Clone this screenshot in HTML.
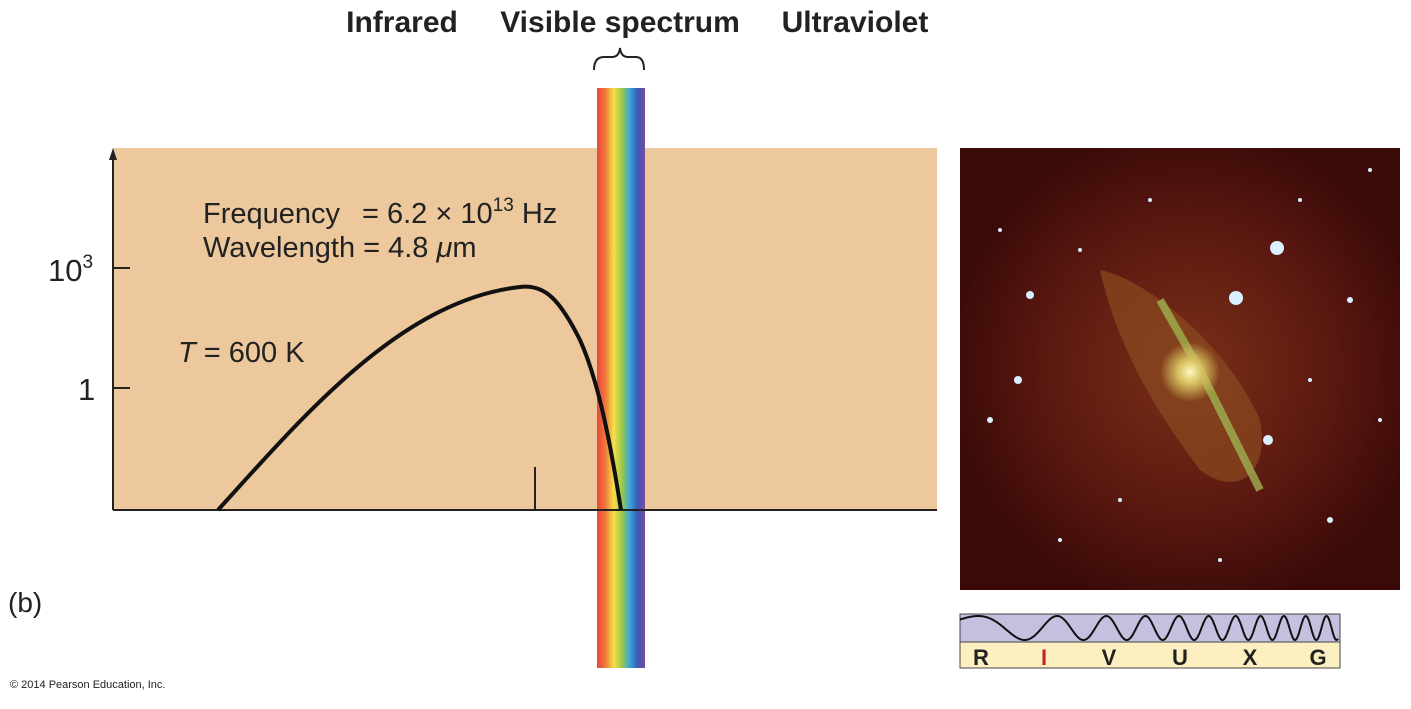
<!DOCTYPE html>
<html><head><meta charset="utf-8"><style>
body{margin:0;width:1411px;height:704px;background:#fff;overflow:hidden;font-family:"Liberation Sans",sans-serif}
</style></head><body>
<svg width="1411" height="704" xmlns="http://www.w3.org/2000/svg" font-family="Liberation Sans, sans-serif">
<defs>
<linearGradient id="rb" x1="0" x2="1" y1="0" y2="0">
<stop offset="0" stop-color="#e8463c"/><stop offset="0.18" stop-color="#f07a3a"/>
<stop offset="0.35" stop-color="#f6e04a"/><stop offset="0.52" stop-color="#9cc84a"/>
<stop offset="0.68" stop-color="#3aa8d8"/><stop offset="0.84" stop-color="#3a5cb8"/>
<stop offset="1" stop-color="#7a4aa0"/></linearGradient>
<radialGradient id="neb" cx="0.52" cy="0.5" r="0.55">
<stop offset="0" stop-color="#7a3018"/><stop offset="0.6" stop-color="#5a1810"/><stop offset="1" stop-color="#3a0a08"/></radialGradient>
<radialGradient id="core" cx="0.5" cy="0.5" r="0.5">
<stop offset="0" stop-color="#fff8c0"/><stop offset="0.4" stop-color="#d8c060"/><stop offset="1" stop-color="#d8c060" stop-opacity="0"/></radialGradient>
</defs>
<text x="402" y="32" font-size="30" font-weight="bold" text-anchor="middle" fill="#222">Infrared</text>
<text x="620" y="32" font-size="30" font-weight="bold" text-anchor="middle" fill="#222">Visible spectrum</text>
<text x="855" y="32" font-size="30" font-weight="bold" text-anchor="middle" fill="#222">Ultraviolet</text>
<path d="M594 70 Q594 57 604 57 L612 57 Q619 57 620 48 Q621 57 628 57 L636 57 Q644 57 644 70" fill="none" stroke="#222" stroke-width="2"/>
<rect x="113" y="148" width="824" height="362" fill="#ecc89c"/>
<rect x="597" y="88" width="48" height="580" fill="url(#rb)"/>
<line x1="113" y1="510" x2="937" y2="510" stroke="#222" stroke-width="2"/>
<line x1="113" y1="510" x2="113" y2="152" stroke="#222" stroke-width="2"/>
<path d="M109 160 L113 148 L117 160Z" fill="#222"/>
<line x1="113" y1="268" x2="130" y2="268" stroke="#222" stroke-width="2"/>
<line x1="113" y1="388" x2="130" y2="388" stroke="#222" stroke-width="2"/>
<line x1="535" y1="467" x2="535" y2="510" stroke="#222" stroke-width="2"/>
<text x="48" y="281" font-size="31" fill="#222">10<tspan font-size="19" dy="-13">3</tspan></text>
<text x="78" y="400" font-size="31" fill="#222">1</text>
<text x="203" y="223" font-size="29" fill="#222">Frequency</text>
<text x="362" y="223" font-size="29" fill="#222">= 6.2 × 10<tspan font-size="19" dy="-12">13</tspan><tspan dy="12"> Hz</tspan></text>
<text x="203" y="257" font-size="29" fill="#222">Wavelength = 4.8 <tspan font-style="italic">μ</tspan>m</text>
<text x="178" y="362" font-size="29" fill="#222"><tspan font-style="italic">T</tspan> = 600 K</text>
<path d="M218 510 C300 420 400 300 520 287 C545 284 560 300 580 340 C598 380 610 440 621 510" fill="none" stroke="#111" stroke-width="4"/>
<text x="8" y="612" font-size="28" fill="#222">(b)</text>
<text x="10" y="688" font-size="11" fill="#222">© 2014 Pearson Education, Inc.</text>
<rect x="960" y="148" width="440" height="442" fill="url(#neb)"/>
<path d="M1100 270 C1150 280 1230 350 1260 420 C1270 470 1240 500 1200 470 C1170 430 1120 360 1100 270Z" fill="#8a4a20" opacity="0.7"/>
<path d="M1160 300 L1200 370 L1260 490" stroke="#a0b050" stroke-width="8" fill="none" opacity="0.8"/>
<circle cx="1190" cy="372" r="30" fill="url(#core)"/>
<g fill="#d8f0ff">
<circle cx="1277" cy="248" r="7"/><circle cx="1236" cy="298" r="7"/><circle cx="1268" cy="440" r="5"/>
<circle cx="1030" cy="295" r="4"/><circle cx="1018" cy="380" r="4"/><circle cx="1350" cy="300" r="3"/>
<circle cx="1300" cy="200" r="2"/><circle cx="990" cy="420" r="3"/><circle cx="1330" cy="520" r="3"/>
<circle cx="1060" cy="540" r="2"/><circle cx="1150" cy="200" r="2"/><circle cx="1380" cy="420" r="2"/>
<circle cx="1000" cy="230" r="2"/><circle cx="1120" cy="500" r="2"/><circle cx="1370" cy="170" r="2"/>
<circle cx="1220" cy="560" r="2"/><circle cx="1080" cy="250" r="2"/><circle cx="1310" cy="380" r="2"/>
</g>
<rect x="960" y="614" width="380" height="28" fill="#c4c0e0" stroke="#444"/>
<rect x="960" y="642" width="380" height="26" fill="#fdf0c0" stroke="#444"/>
<path id="wave" fill="none" stroke="#111" stroke-width="2"/>
<g font-size="22" font-weight="bold" fill="#222" text-anchor="middle">
<text x="981" y="665">R</text><text x="1044" y="665" fill="#d02020">I</text><text x="1109" y="665">V</text>
<text x="1180" y="665">U</text><text x="1250" y="665">X</text><text x="1318" y="665">G</text></g>
</svg>
<script>
var d="",x0=960,x1=1338;
for(var i=0;i<=800;i++){var t=i/800;var x=x0+t*(x1-x0);var ph=2*Math.PI*(t*2.2+t*t*8.5);var y=628+12*Math.cos(ph+Math.PI*0.75);d+=(i?"L":"M")+x.toFixed(1)+" "+y.toFixed(1);}
document.getElementById("wave").setAttribute("d",d);
</script>
</body></html>
